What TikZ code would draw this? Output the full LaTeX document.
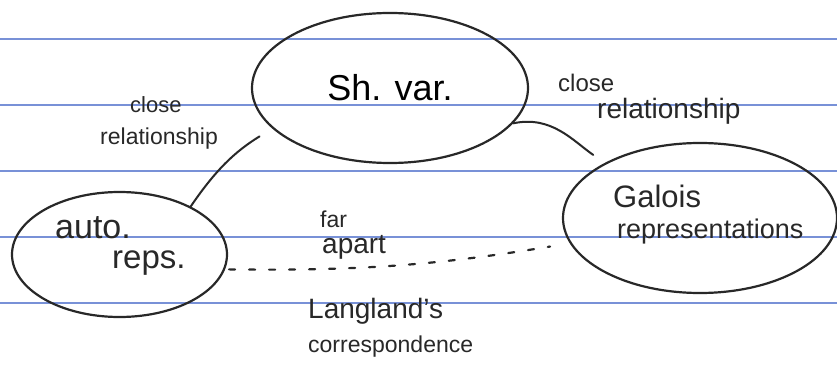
\documentclass[tikz,border=0pt]{standalone}
\usepackage{fontspec}
\setmainfont{Liberation Sans}
\usetikzlibrary{shapes.geometric}
\definecolor{ink}{RGB}{40,40,40}
\definecolor{rule}{RGB}{120,145,215}
\tikzset{
  blob/.style={ellipse, draw=ink, line width=2.2pt, inner sep=0pt},
  hand/.style={text=ink, inner sep=0pt, anchor=base west},
  link/.style={draw=ink, line width=2pt, line cap=round},
  ruling/.style={draw=rule, line width=1.3pt},
  farlink/.style={draw=ink, line width=2.2pt, line cap=round, dash pattern=on 6pt off 14pt}
}
\begin{document}
\begin{tikzpicture}[x=1pt, y=-1pt]
\useasboundingbox (0,0) rectangle (837,366);
\fill[white] (0,0) rectangle (837,366);
% ruled paper
\foreach \yy in {39,105,171,237,303} \draw[ruling] (0,\yy) -- (837,\yy);
% ellipses
\node[blob, minimum width=276pt, minimum height=150pt, font=\fontsize{36}{40}\selectfont] (shv) at (390,88) {Sh. var.};
\node[blob, minimum width=215pt, minimum height=125pt] (auto) at (119.5,254.5) {};
\node[blob, minimum width=274pt, minimum height=150pt] (galois) at (700,218) {};
% texts
\node[hand, font=\fontsize{34}{38}\selectfont] (tauto) at (55,238) {auto.};
\node[hand, font=\fontsize{33}{38}\selectfont] (treps) at (112,268) {reps.};
\node[hand, font=\fontsize{31}{36}\selectfont] (tgal) at (613,207) {Galois};
\node[hand, font=\fontsize{27}{32}\selectfont] (trep) at (617,238) {representations};
\node[hand, font=\fontsize{23}{28}\selectfont] (tfar) at (320,227) {far};
\node[hand, font=\fontsize{28}{32}\selectfont] (tapart) at (322,253) {apart};
\node[hand, font=\fontsize{28}{32}\selectfont] (tlang) at (308,318) {Langland's};
\node[hand, font=\fontsize{23}{28}\selectfont] (tcorr) at (308,352) {correspondence};
\node[hand, font=\fontsize{22}{26}\selectfont] (tlc) at (130,113) {close};
\node[hand, font=\fontsize{23}{28}\selectfont] (tlr) at (100,145) {relationship};
\node[hand, font=\fontsize{24}{30}\selectfont] (trc) at (558,92) {close};
\node[hand, font=\fontsize{28}{34}\selectfont] (trr) at (597,119) {relationship};
% connectors
\draw[link, shorten >=15pt] (auto.34) to[bend left=12] (shv.199);
\draw[link, shorten >=14pt] (shv.-16) to[out=12, in=145] (galois.150);
\draw[farlink, shorten <=4pt, shorten >=20pt] (auto.-8) to[bend right=5] (galois.191);
\end{tikzpicture}
\end{document}
